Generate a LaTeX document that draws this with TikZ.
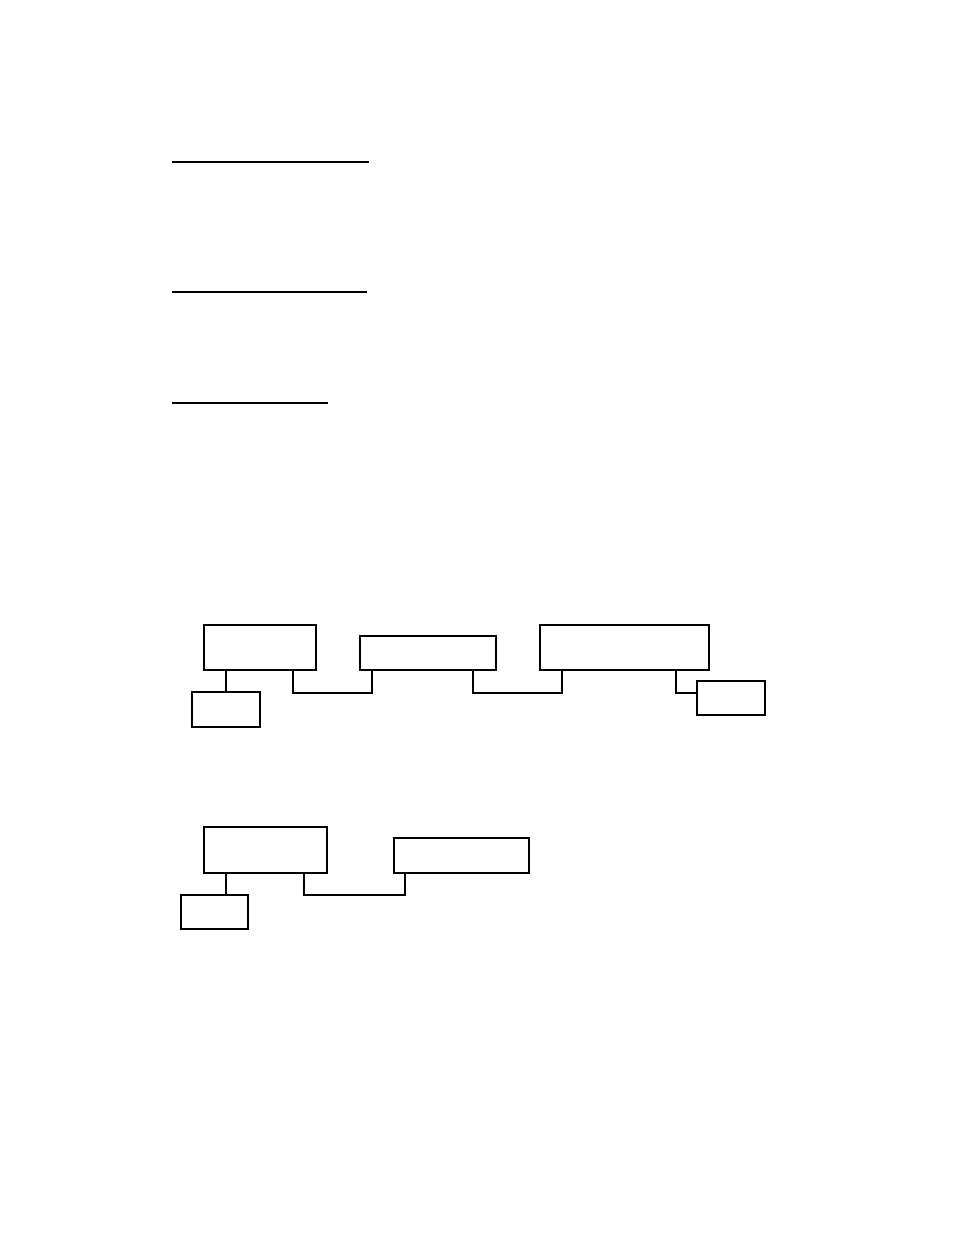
\documentclass[tikz,border=0pt]{standalone}
\usepackage{tikz}

\begin{document}
\begin{tikzpicture}
      [x=1pt, y=-1pt, line width=1.2pt,
      box/.style={draw, anchor=north west, inner sep=0pt, outer sep=0pt},
      link/.style={draw, line width=1.6pt}]
      \useasboundingbox (0,0) rectangle (954,1235);
      % heading rules
      \draw (172,162) -- (369,162);
      \draw (172,292) -- (367,292);
      \draw (172,403) -- (328,403);
      % first chain
      \node[box, minimum width=112pt, minimum height=45pt] (a1) at (204,625) {};
      \node[box, minimum width=136pt, minimum height=34pt] (b1) at (360,636) {};
      \node[box, minimum width=169pt, minimum height=45pt] (c1) at (540,625) {};
      \node[box, minimum width=68pt, minimum height=35pt] (d1) at (192,692) {};
      \node[box, minimum width=68pt, minimum height=34pt] (e1) at (697,681) {};
      \coordinate (p1) at (293,693);
      \coordinate (q1) at (372,693);
      \coordinate (p2) at (473,693);
      \coordinate (q2) at (562,693);
      \coordinate (p3) at (676,693);
      \draw (d1.north) -- (d1.north |- a1.south);
      \draw[link] (p1 |- a1.south) -- (p1) -- (q1) -- (q1 |- b1.south);
      \draw[link] (p2 |- b1.south) -- (p2) -- (q2) -- (q2 |- c1.south);
      \draw[link] (p3 |- c1.south) -- (p3) -- (p3 -| e1.west);
      % second chain
      \node[box, minimum width=123pt, minimum height=46pt] (a2) at (204,827) {};
      \node[box, minimum width=135pt, minimum height=35pt] (b2) at (394,838) {};
      \node[box, minimum width=67pt, minimum height=34pt] (d2) at (181,895) {};
      \coordinate (s4) at (226,895);
      \coordinate (p4) at (304,895);
      \coordinate (q4) at (405,895);
      \draw (s4 |- d2.north) -- (s4 |- a2.south);
      \draw[link] (p4 |- a2.south) -- (p4) -- (q4) -- (q4 |- b2.south);
\end{tikzpicture}
\end{document}
